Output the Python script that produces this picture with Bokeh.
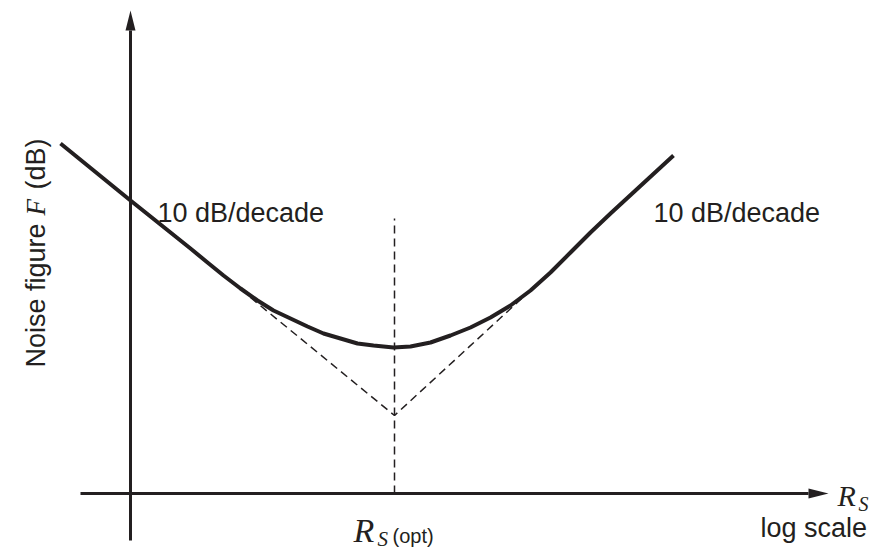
import numpy as np
from bokeh.plotting import figure
from bokeh.models import Range1d
from bokeh.core.properties import value
from bokeh.embed import file_html
from bokeh.resources import INLINE

# noise figure curve (x: decades of Rs, y: dB)
log_rs = [-0.70, 0.00, 0.60, 0.77, 0.93, 1.10, 1.27, 1.43, 1.60, 1.77, 1.93, 2.10,
          2.27, 2.43, 2.63, 2.80, 3.00, 3.20, 3.40, 3.60, 3.80, 4.00, 4.20, 4.40,
          4.60, 4.80, 5.43]
nf_db = [35.0, 29.3, 24.5, 23.1, 21.8, 20.5, 19.3, 18.3, 17.5, 16.7, 16.0, 15.5,
         15.0, 14.8, 14.6, 14.7, 15.1, 15.8, 16.6, 17.6, 18.8, 20.3, 22.1, 24.1,
         26.1, 28.0, 33.8]

# asymptotes (10 dB/decade) meeting under Rs(opt)
asym_x = [1.20, 2.64, 4.02]
asym_y = [19.6, 7.8, 20.5]
rs_opt = 2.64
rs_opt_top = 27.5

# axis extents
x_axis = [-0.5, 6.98]
y_axis = [-4.7, 48.3]

ink = "#231f20"
sans = value("Liberation Sans")
serif = value("Liberation Serif")

# 100 px per decade, 10 px per dB
px_x = 100.0
px_y = 10.0

p = figure(width=880, height=550, output_backend="svg", toolbar_location=None,
           x_range=Range1d(-1.30, 7.50), y_range=Range1d(-5.7, 49.3),
           x_axis_location=None, y_axis_location=None, min_border=0)
p.outline_line_color = None
p.xgrid.visible = False
p.ygrid.visible = False
p.background_fill_color = "white"

# axes with arrow heads
head_len = 20
head_half = 5
p.line([x_axis[0], x_axis[1] - head_len / px_x], [0, 0], line_color=ink, line_width=3)
p.line([0, 0], [y_axis[0], y_axis[1] - head_len / px_y], line_color=ink, line_width=3)
p.patch([x_axis[1], x_axis[1] - head_len / px_x, x_axis[1] - head_len / px_x],
        [0, head_half / px_y, -head_half / px_y], color=ink, line_width=0)
p.patch([0, head_half / px_x, -head_half / px_x],
        [y_axis[1], y_axis[1] - head_len / px_y, y_axis[1] - head_len / px_y], color=ink, line_width=0)

# dashed guides
p.line(asym_x, asym_y, line_color=ink, line_width=1.5, line_dash="8 5")
p.line([rs_opt, rs_opt], [0, rs_opt_top], line_color=ink, line_width=1.5, line_dash="8 5")

# curve
p.line(log_rs, nf_db, line_color=ink, line_width=4, line_join="round")

# labels
p.text([0.27, 5.23], [28.1, 28.1], text=["10 dB/decade", "10 dB/decade"],
       text_font=sans, text_font_size="27px", text_color=ink, text_baseline="alphabetic")

p.text([-0.95], [12.6], text=["Noise figure"], angle=np.pi / 2, text_font=sans,
       text_font_size="27px", text_color=ink, text_baseline="alphabetic")
p.text([-0.95], [27.8], text=["F"], angle=np.pi / 2, text_font=serif, text_font_style="italic",
       text_font_size="27px", text_color=ink, text_baseline="alphabetic")
p.text([-0.95], [30.4], text=["(dB)"], angle=np.pi / 2, text_font=sans,
       text_font_size="27px", text_color=ink, text_baseline="alphabetic")

p.text([2.23], [-3.7], text=["R"], text_font=serif, text_font_style="italic",
       text_font_size="34px", text_color=ink, text_baseline="alphabetic")
p.text([2.47], [-4.5], text=["S"], text_font=serif, text_font_style="italic",
       text_font_size="21px", text_color=ink, text_baseline="alphabetic")
p.text([2.62], [-4.2], text=["(opt)"], text_font=sans,
       text_font_size="20px", text_color=ink, text_baseline="alphabetic")

p.text([7.07], [-0.2], text=["R"], text_font=serif, text_font_style="italic",
       text_font_size="30px", text_color=ink, text_baseline="alphabetic")
p.text([7.28], [-1.0], text=["S"], text_font=serif, text_font_style="italic",
       text_font_size="20px", text_color=ink, text_baseline="alphabetic")
p.text([6.30], [-3.4], text=["log scale"], text_font=sans,
       text_font_size="27px", text_color=ink, text_baseline="alphabetic")

open("out.html", "w").write(file_html(p, INLINE))
